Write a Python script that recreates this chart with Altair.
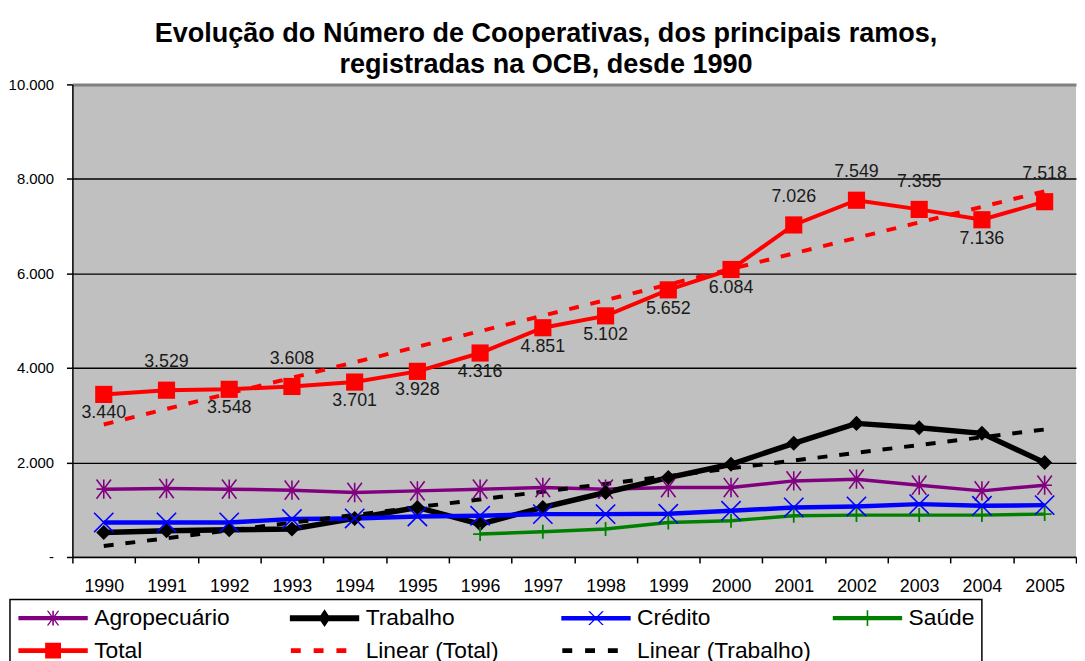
import altair as alt
import pandas as pd

# ---------------- dados ----------------
anos = list(range(1990, 2006))
agropecuario = [1435, 1449, 1435, 1414, 1365, 1399, 1435, 1470, 1435, 1470, 1470, 1610, 1646, 1519, 1399, 1519]
trabalho = [520, 555, 577, 591, 816, 1048, 696, 1048, 1364, 1681, 1962, 2405, 2827, 2736, 2616, 1997]
credito = [731, 731, 731, 802, 816, 858, 872, 907, 907, 914, 977, 1048, 1069, 1118, 1083, 1097]
saude = [None, None, None, None, None, None, 485, 534, 591, 731, 767, 872, 886, 886, 886, 907]
total = [3440, 3529, 3548, 3608, 3701, 3928, 4316, 4851, 5102, 5652, 6084, 7026, 7549, 7355, 7136, 7518]
rotulos_acima = [1991, 1993, 2001, 2002, 2003, 2005]

series = ["Agropecuário", "Trabalho", "Crédito", "Saúde", "Total"]
legenda = series + ["Linear (Total)", "Linear (Trabalho)"]
valores = [agropecuario, trabalho, credito, saude, total]

linhas = []
for s, vals in zip(series, valores):
    for a, v in zip(anos, vals):
        if v is not None:
            linhas.append({"Ano": a, "Serie": s, "Valor": v})
df = pd.DataFrame(linhas)

# ---------------- estilos ----------------
FONT = "Liberation Sans"

ASTERISCO = "M-0.75,0H0.75M0,-1V1M-0.75,-1L0.75,1M-0.75,1L0.75,-1"
XIS = "M-1,-1L1,1M-1,1L1,-1"
MAIS = "M-1,0H1M0,-1V1"

estilo = {
    "Agropecuário": dict(cor="#800080", lw=3.5, forma=ASTERISCO, tam=380, cheio=False, sw=1.6),
    "Trabalho": dict(cor="#000000", lw=5.5, forma="diamond", tam=230, cheio=True, sw=0),
    "Crédito": dict(cor="#0000FF", lw=4.5, forma=XIS, tam=380, cheio=False, sw=1.6),
    "Saúde": dict(cor="#008000", lw=3.5, forma=MAIS, tam=200, cheio=False, sw=1.8),
    "Total": dict(cor="#FF0000", lw=4, forma="square", tam=300, cheio=True, sw=0),
}
cores_legenda = ["#800080", "#000000", "#0000FF", "#008000", "#FF0000", "#FF0000", "#000000"]

# legend glyphs drawn in pixels (0..70 wide), converted to symbol units (10 px / unit)
SIMB = 400  # symbol size -> 20 px box, 10 px per unit


def cx(px):
    return round((px - 10) / 10, 3)


def cy(py):
    return round(py / 10, 3)


def R(x0, y0, x1, y1):
    return f"M{cx(x0)},{cy(y0)}H{cx(x1)}V{cy(y1)}H{cx(x0)}Z"


def D(c, a, h, w):
    d1 = f"M{cx(c - a - w)},{cy(-h)}L{cx(c - a + w)},{cy(-h)}L{cx(c + a + w)},{cy(h)}L{cx(c + a - w)},{cy(h)}Z"
    d2 = f"M{cx(c + a - w)},{cy(-h)}L{cx(c + a + w)},{cy(-h)}L{cx(c - a + w)},{cy(h)}L{cx(c - a - w)},{cy(h)}Z"
    return d1 + d2


def tracos(t):
    return R(1, -t, 11, t) + R(24, -t, 34, t) + R(47, -t, 57, t)


formas_legenda = [
    R(0, -2.2, 70, 2.2) + R(34.2, -7.5, 35.8, 7.5) + D(35, 5.5, 7.5, 0.8),
    R(0, -3, 70, 3) + f"M{cx(35)},{cy(-9)}L{cx(41)},{cy(0)}L{cx(35)},{cy(9)}L{cx(29)},{cy(0)}Z",
    R(0, -2.3, 70, 2.3) + D(35, 7, 7, 0.9),
    R(0, -2.1, 70, 2.1) + R(34.2, -8, 35.8, 8),
    R(0, -2.5, 70, 2.5) + R(27, -8, 43, 8),
    tracos(2.5),
    tracos(2.5),
]

# ---------------- codificações ----------------
x_enc = alt.X(
    "Ano:O",
    scale=alt.Scale(type="band", domain=anos, paddingInner=0, paddingOuter=0),
    bandPosition=0.5,
    axis=alt.Axis(
        title=None, labelAngle=0, tickBand="extent", tickSize=6, tickColor="#000",
        tickWidth=1.5, domainColor="#000", domainWidth=1.5, labelFont=FONT,
        labelFontSize=18, labelColor="#000", labelPadding=15, grid=False,
    ),
)
y_enc = alt.Y(
    "Valor:Q",
    scale=alt.Scale(domain=[0, 10000], nice=False),
    axis=alt.Axis(
        title=None, values=[0, 2000, 4000, 6000, 8000, 10000],
        labelExpr="datum.value == 0 ? '-' : replace(format(datum.value, ','), ',', '.')",
        tickSize=6, tickColor="#000", tickWidth=1.5, domainColor="#000", domainWidth=1.5,
        labelFont=FONT, labelFontSize=15, labelColor="#000", labelPadding=13,
        grid=True,
        gridColor=alt.condition("datum.value == 10000", alt.value("#808080"), alt.value("#000000")),
        gridWidth=alt.condition("datum.value == 10000", alt.value(3), alt.value(1.3)),
    ),
)

base = alt.Chart(df).encode(x=x_enc, y=y_enc)

camadas = []
for s in series:
    e = estilo[s]
    camadas.append(
        base.transform_filter(alt.datum.Serie == s).mark_line(color=e["cor"], strokeWidth=e["lw"])
    )

# linhas de tendência (regressão linear)
camadas.append(
    base.transform_filter(alt.datum.Serie == "Total")
    .transform_regression("Ano", "Valor")
    .mark_line(color="#FF0000", strokeWidth=4, strokeDash=[10, 12])
)
camadas.append(
    base.transform_filter(alt.datum.Serie == "Trabalho")
    .transform_regression("Ano", "Valor")
    .mark_line(color="#000000", strokeWidth=4, strokeDash=[10, 12])
)

for s in series:
    e = estilo[s]
    camadas.append(
        base.transform_filter(alt.datum.Serie == s).mark_point(
            shape=e["forma"], size=e["tam"], filled=e["cheio"], color=e["cor"],
            strokeWidth=e["sw"], opacity=1,
        )
    )

rot = (
    base.transform_filter(alt.datum.Serie == "Total")
    .transform_calculate(rotulo="replace(format(datum.Valor, ','), ',', '.')")
)
camadas.append(
    rot.transform_filter(alt.FieldOneOfPredicate(field="Ano", oneOf=rotulos_acima))
    .mark_text(dy=-28, font=FONT, fontSize=18, color="#1a1a1a")
    .encode(text="rotulo:N")
)
camadas.append(
    rot.transform_filter(~alt.FieldOneOfPredicate(field="Ano", oneOf=rotulos_acima))
    .mark_text(dy=19, font=FONT, fontSize=18, color="#1a1a1a")
    .encode(text="rotulo:N")
)

leg = alt.Legend(
    title=None, orient="none", legendX=-63, legendY=520, columns=4,
    direction="horizontal", gridAlign="all", columnPadding=20, rowPadding=9,
    labelFont=FONT, labelFontSize=23, labelColor="#000", labelLimit=400, labelOffset=55,
    symbolSize=SIMB, symbolStrokeWidth=0, strokeColor="#000", fillColor="#FFFFFF",
    padding=7,
)
camadas.append(
    alt.Chart(df).transform_filter("false").mark_point(filled=True, opacity=1).encode(
        x=x_enc, y=y_enc,
        color=alt.Color("Serie:N", scale=alt.Scale(domain=legenda, range=cores_legenda), legend=leg),
        shape=alt.Shape("Serie:N", scale=alt.Scale(domain=legenda, range=formas_legenda), legend=leg),
    )
)

chart = (
    alt.layer(*camadas)
    .properties(
        width=1013, height=477,
        padding={"left": 0, "top": 9, "right": 0, "bottom": 0},
        title=alt.Title(
            ["Evolução do Número de Cooperativas, dos principais ramos,", "registradas na OCB, desde 1990"],
            font=FONT, fontSize=27.3, fontWeight="bold", lineHeight=31, color="#000",
            anchor="start", frame="group", align="center", dx=478, offset=-1,
        ),
    )
    .configure_view(fill="#C0C0C0", strokeWidth=0)
    .configure_legend(strokeWidth=1.5)
)

chart.save("out.html", embed_options={"renderer": "svg", "actions": False})
